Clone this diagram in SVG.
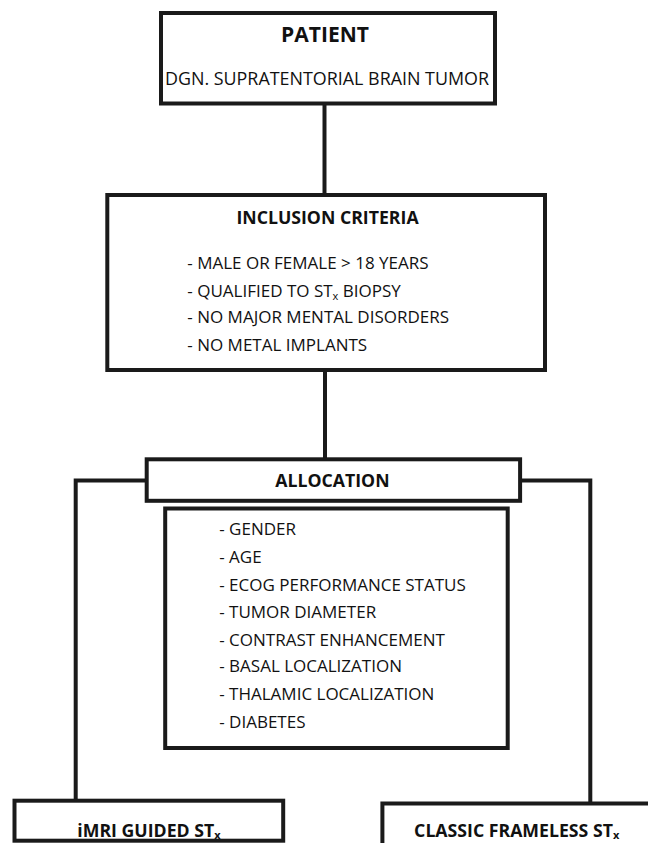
<svg xmlns="http://www.w3.org/2000/svg" width="648" height="843" viewBox="0 0 648 843">
<style>
.box{fill:#fff;stroke:#1a1a1a;stroke-width:4}
.ln{fill:none;stroke:#1a1a1a;stroke-width:4}
text{font-family:"Open Sans","Liberation Sans",sans-serif;fill:#111}
.b{font-weight:bold;text-anchor:middle;font-size:17.7px}
.t{font-size:17px}
.sub{font-size:11px}
</style>
<rect width="648" height="843" fill="#fff"/>
<g id="connectors">
<line class="ln" x1="324.5" y1="103" x2="324.5" y2="196"/>
<line class="ln" x1="325" y1="370" x2="325" y2="460"/>
<polyline class="ln" points="147,480.5 75.7,480.5 75.7,801"/>
<polyline class="ln" points="519,480.5 590.3,480.5 590.3,804"/>
</g>
<g id="patient">
<rect class="box" x="161" y="13" width="334" height="90.5"/>
<text class="b" x="325" y="41.7" style="font-size:21px">PATIENT</text>
<text x="327" y="85" text-anchor="middle" style="font-size:17.9px">DGN. SUPRATENTORIAL BRAIN TUMOR</text>
</g>
<g id="inclusion">
<rect class="box" x="107.3" y="195" width="437.7" height="175"/>
<text class="b" x="327.5" y="224">INCLUSION CRITERIA</text>
<text class="t" x="187.3" y="269">- MALE OR FEMALE &gt; 18 YEARS</text>
<text class="t" x="187.3" y="296.7">- QUALIFIED TO ST<tspan class="sub" dy="3">x</tspan><tspan dy="-3"> BIOPSY</tspan></text>
<text class="t" x="187.3" y="323.3">- NO MAJOR MENTAL DISORDERS</text>
<text class="t" x="187.3" y="350.7">- NO METAL IMPLANTS</text>
</g>
<g id="allocation">
<rect class="box" x="146.7" y="459.3" width="373.4" height="41.5"/>
<text class="b" x="332.4" y="487">ALLOCATION</text>
</g>
<g id="factors">
<rect class="box" x="165.2" y="508.5" width="342.5" height="239.5"/>
<text class="t" x="219.2" y="535">- GENDER</text>
<text class="t" x="219.2" y="563.3">- AGE</text>
<text class="t" x="219.2" y="590.7">- ECOG PERFORMANCE STATUS</text>
<text class="t" x="219.2" y="618.3">- TUMOR DIAMETER</text>
<text class="t" x="219.2" y="645.7">- CONTRAST ENHANCEMENT</text>
<text class="t" x="219.2" y="672.3">- BASAL LOCALIZATION</text>
<text class="t" x="219.2" y="700">- THALAMIC LOCALIZATION</text>
<text class="t" x="219.2" y="727.7">- DIABETES</text>
</g>
<g id="imri">
<rect class="box" x="14.5" y="800.7" width="268.7" height="40"/>
<text class="b" x="149" y="836.5">iMRI GUIDED ST<tspan class="sub" dy="2.5">x</tspan></text>
</g>
<g id="classic">
<rect class="box" x="382.4" y="803.5" width="270" height="45"/>
<text class="b" x="516.7" y="836.5">CLASSIC FRAMELESS ST<tspan class="sub" dy="2.5">x</tspan></text>
</g>
</svg>
